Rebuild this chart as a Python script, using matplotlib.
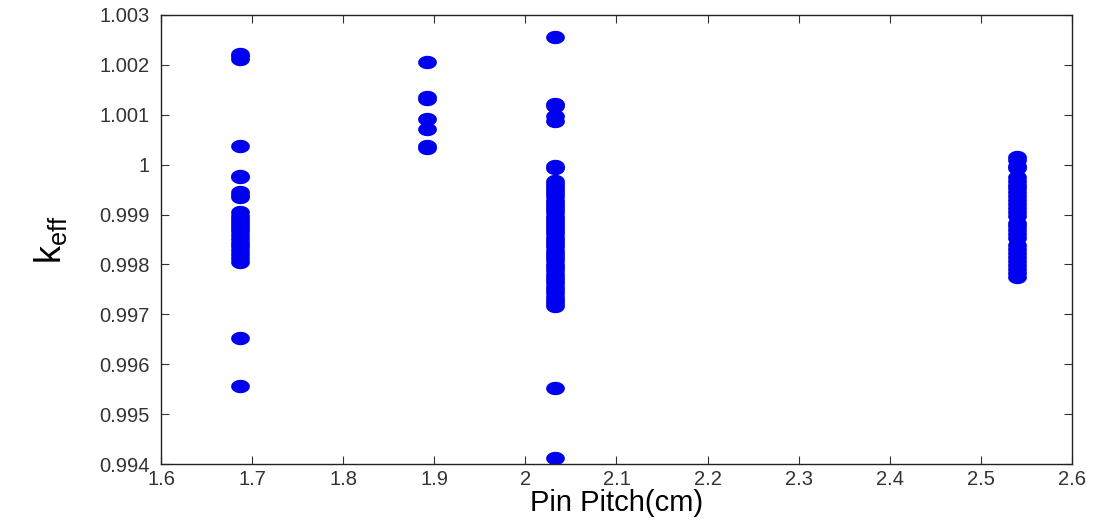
import numpy as np
import matplotlib
matplotlib.use("Agg")
import matplotlib.pyplot as plt
from matplotlib.path import Path
from matplotlib.ticker import FormatStrFormatter, MultipleLocator

plt.rcParams['font.family'] = ['Liberation Sans', 'DejaVu Sans']

# pin pitch of each column (cm)
pitches = [1.6866, 1.8923, 2.032, 2.54]

keff_1686 = [1.00222, 1.00218, 1.00212, 1.00038, 0.99978, 0.99975, 0.99946, 0.9994,
             0.99935, 0.99906, 0.99898, 0.99892, 0.99885, 0.99878, 0.99872, 0.99866,
             0.99858, 0.9985, 0.99843, 0.99836, 0.99828, 0.9982, 0.99812, 0.99805,
             0.99653, 0.99557]
keff_1892 = [1.00205, 1.00136, 1.00131, 1.00091, 1.00072, 1.00037, 1.00034]
keff_2032 = [1.00256, 1.00121, 1.00117, 1.00097, 1.00087, 0.99998, 0.99994,
             0.99968, 0.99962, 0.99955, 0.99949, 0.99943, 0.99937, 0.9993, 0.99924,
             0.99917, 0.99911, 0.99905, 0.99898, 0.99892, 0.99886, 0.99879, 0.99873,
             0.99866, 0.9986, 0.99853, 0.99847, 0.9984, 0.99834, 0.99827, 0.99821,
             0.99814, 0.99808, 0.99801, 0.99795, 0.99788, 0.99781, 0.99775, 0.99768,
             0.99762, 0.99755, 0.99748, 0.99742, 0.99735, 0.99728, 0.99722, 0.99716,
             0.99553, 0.99413]
keff_2540 = [1.00016, 1.00009, 0.99998, 0.99993, 0.99975, 0.99968, 0.9996, 0.99953,
             0.99946, 0.99938, 0.9993, 0.99922, 0.99914, 0.99906, 0.99898, 0.99884,
             0.99876, 0.99868, 0.9986, 0.99852, 0.99838, 0.9983, 0.99822, 0.99814,
             0.99806, 0.99798, 0.9979, 0.99782, 0.99774]

columns = [keff_1686, keff_1892, keff_2032, keff_2540]

# the source image is stretched sideways, so the dots are a bit oval
t = np.linspace(0, 2 * np.pi, 40)
oval = Path(np.column_stack([1.4 * np.cos(t), np.sin(t)]), closed=True)

fig = plt.figure(figsize=(10.99, 5.24), dpi=100)
ax = fig.add_axes([0.1465, 0.1145, 0.8289, 0.857])

for p, vals in zip(pitches, columns):
    ax.plot([p] * len(vals), vals, linestyle='none', marker=oval,
            markersize=13.5, color='#0000f0', markeredgewidth=0)

ax.set_xlim(1.6, 2.6)
ax.set_ylim(0.994, 1.003)
ax.xaxis.set_major_locator(MultipleLocator(0.1))
ax.yaxis.set_major_locator(MultipleLocator(0.001))
ax.xaxis.set_major_formatter(FormatStrFormatter('%g'))
ax.yaxis.set_major_formatter(FormatStrFormatter('%g'))

ax.tick_params(direction='in', top=True, right=True, length=6, width=0.8,
               labelsize=14.5, colors='#333333', labelcolor='#333333')
ax.tick_params(axis='y', pad=8)
ax.tick_params(axis='x', pad=4)
for s in ax.spines.values():
    s.set_color('#222222')
    s.set_linewidth(1.0)

ax.set_xlabel('Pin Pitch(cm)', fontsize=21, labelpad=0)
ax.set_ylabel(r'$\mathregular{k_{eff}}$', fontsize=26, labelpad=22)

fig.savefig('out.png', dpi=100, facecolor='white')
